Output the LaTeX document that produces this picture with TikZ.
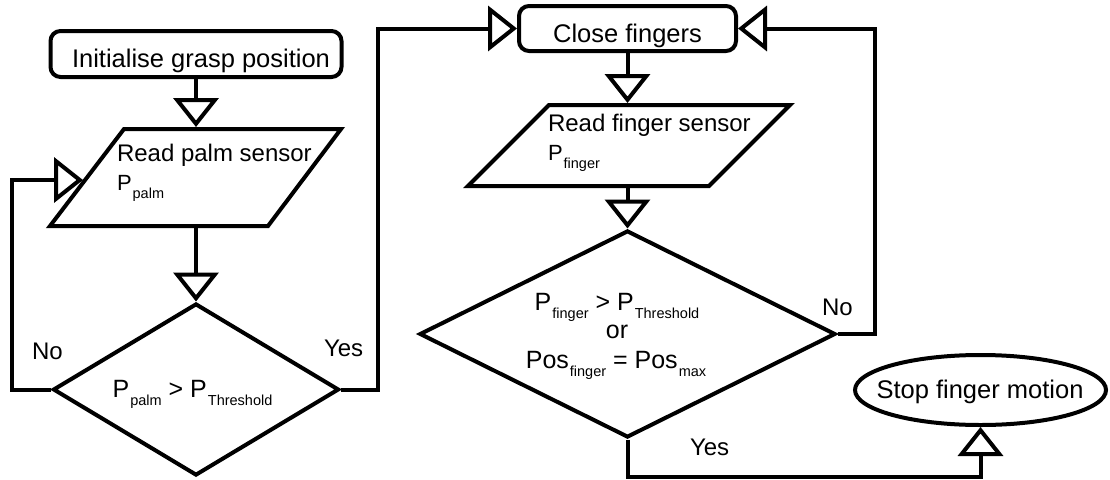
\documentclass[tikz,border=0pt]{standalone}
\usepackage{fontspec}
\setmainfont{Liberation Sans}
\usetikzlibrary{arrows.meta,shapes.geometric}

% lowered small index, as used in the formulas
\newcommand\lowsub[1]{\kern1pt\raisebox{-8pt}{\fontsize{14.5}{17}\selectfont #1}}

\begin{document}
\begin{tikzpicture}[
  x=1pt, y=-1pt,
  line width=4pt,
  rbox/.style={draw, rounded corners=10pt, inner sep=0pt},
  decide/.style={draw, diamond, inner sep=0pt},
  endnode/.style={draw, ellipse, inner sep=0pt},
  io/.style={draw, line join=miter},
  arr/.style={-{Triangle[open, length=29pt, width=45pt]}},
  lbl/.style={inner sep=0pt, font=\fontsize{25.5}{30}\selectfont},
  txt/.style={inner sep=0pt, font=\fontsize{24}{29}\selectfont},
  frm/.style={inner sep=0pt, font=\fontsize{25}{30}\selectfont},
]
\useasboundingbox (0,0) rectangle (1110,479);

% ---- left column: palm contact ----
\node[rbox, minimum width=291pt, minimum height=46pt] (init) at (196,54) {};
\node[lbl, anchor=base] (initT) at (201,67) {Initialise grasp position};

\draw[io] (124,129) -- (341,129) -- (268,226) -- (50,226) -- cycle;
\coordinate (palmN) at (196,127);
\coordinate (palmS) at (196,228);
\coordinate (palmW) at (83,180);
\node[txt, anchor=base west] (palmT1) at (115,161.7) {Read palm sensor};
\node[txt, anchor=base west] (palmT2) at (115,190)
  {{\fontsize{22}{26}\selectfont P}\lowsub{palm}};

\node[decide, minimum width=286pt, minimum height=172pt] (pd) at (196,389.5) {};
\node[frm, anchor=base] (pdT) at (192.5,397)
  {P\lowsub{palm} > P\lowsub{Threshold}};

% ---- middle column: finger closing ----
\node[rbox, minimum width=217pt, minimum height=45pt] (close) at (627.5,28.5) {};
\node[lbl, anchor=base] (closeT) at (627.5,42) {Close fingers};

\draw[io] (549,105) -- (790,105) -- (709,186) -- (468,186) -- cycle;
\coordinate (fingN) at (627.5,103);
\coordinate (fingS) at (627.5,188);
\node[txt, anchor=base west] (fingT1) at (546,131.7) {Read finger sensor};
\node[txt, anchor=base west] (fingT2) at (546,160)
  {{\fontsize{22}{26}\selectfont P}\lowsub{finger}};

\node[decide, minimum width=416pt, minimum height=207pt] (fd) at (627.5,334) {};
\node[frm, anchor=base] (fdT1) at (617,310) {P\lowsub{finger} > P\lowsub{Threshold}};
\node[frm, anchor=base] (fdT2) at (617,338) {or};
\node[frm, anchor=base] (fdT3) at (616,368) {Pos\lowsub{finger} = Pos\lowsub{max}};

% ---- end state ----
\node[endnode, minimum width=251pt, minimum height=70pt] (stop) at (980.5,390) {};
\node[lbl, anchor=base] (stopT) at (980,398) {Stop finger motion};

% ---- connectors ----
\draw[arr] (init.south) -- (palmN);
\draw[arr] (palmS) -- (pd.north);
\draw[arr] (pd.west) -- ++(-39,0) |- (palmW);
\draw[arr] (pd.east) -- ++(37,0) |- (close.west);
\draw[arr] (close.south) -- (fingN);
\draw[arr] (fingS) -- (fd.north);
\draw[arr] (fd.east) -- ++(37.5,0) |- (close.east);
\draw[arr] (fd.south) -- ++(0,37) -| (stop.south);

% ---- branch labels ----
\node[txt, anchor=base west] (noL) at (30,359) {No};
\node[txt, anchor=base west] (yesL) at (322,356) {Yes};
\node[txt, anchor=base west] (noR) at (820,315) {No};
\node[txt, anchor=base west] (yesR) at (688,455) {Yes};
\end{tikzpicture}
\end{document}
